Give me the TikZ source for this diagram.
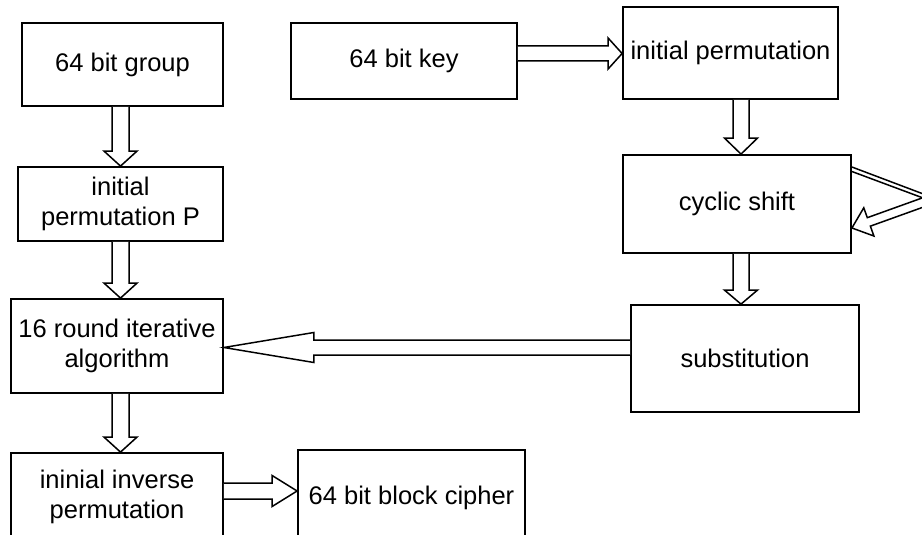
\documentclass[tikz,border=0pt]{standalone}
\usepackage{fontspec}
\setmainfont{Liberation Sans}
\usetikzlibrary{calc}

% Hollow block arrow: #1 start, #2 tip, #3 shaft half width,
% #4 head half width, #5 head length
\newcommand\hollowarrow[5]{%
  \coordinate (ha-s) at #1;
  \coordinate (ha-e) at #2;
  \coordinate (ha-h) at ($(ha-e)!#5!(ha-s)$);
  \draw[arrowline]
    ($(ha-s)!#3!90:(ha-e)$) -- ($(ha-h)!#3!90:(ha-e)$)
    -- ($(ha-h)!#4!90:(ha-e)$) -- (ha-e)
    -- ($(ha-h)!#4!-90:(ha-e)$) -- ($(ha-h)!#3!-90:(ha-e)$)
    -- ($(ha-s)!#3!-90:(ha-e)$);
}

\begin{document}
\begin{tikzpicture}[x=1pt,y=-1pt,
  box/.style={draw, line width=1.8pt, rectangle, inner sep=0pt, align=center,
    font=\fontsize{25.5}{30}\selectfont},
  arrowline/.style={draw, line width=1.5pt, line join=miter, fill=white}]
\useasboundingbox (0,0) rectangle (922,535);
\fill[white] (0,0) rectangle (922,535);
\clip (0,0) rectangle (922,535);

% left column: data path
\node[box, minimum width=201pt, minimum height=83pt] (A) at (122.5,64.5) {64 bit group};
\node[box, minimum width=205pt, minimum height=74pt] (B) at (120.5,204) {initial\\permutation P};
\node[box, minimum width=212pt, minimum height=94pt] (C) at (117,346) {16 round iterative\\algorithm};
\node[box, minimum width=212pt, minimum height=88pt] (D) at (117,497) {ininial inverse\\permutation};
\node[box, minimum width=227pt, minimum height=96pt] (E) at (411.5,498) {64 bit block cipher};

% right column: key schedule
\node[box, minimum width=226pt, minimum height=76pt] (F) at (404,61) {64 bit key};
\node[box, minimum width=215pt, minimum height=92pt] (G) at (730.5,53) {initial permutation};
\node[box, minimum width=228pt, minimum height=98pt] (H) at (737,204) {cyclic shift};
\node[box, minimum width=228pt, minimum height=107pt] (I) at (745,358.5) {substitution};

% axes of the block arrows
\coordinate (colL) at (120.5,0);
\coordinate (colR) at (741,0);
\coordinate (rowK) at (0,53.5);
\coordinate (rowS) at (0,347.5);
\coordinate (rowD) at (0,491);

\hollowarrow{(A.south -| colL)}{(B.north -| colL)}{8.5pt}{16.5pt}{15pt}
\hollowarrow{(B.south -| colL)}{(C.north -| colL)}{8.5pt}{16.5pt}{15pt}
\hollowarrow{(C.south -| colL)}{(D.north -| colL)}{8.5pt}{16.5pt}{15pt}
\hollowarrow{(D.east |- rowD)}{(E.west |- rowD)}{8pt}{15.5pt}{25pt}

\hollowarrow{(F.east |- rowK)}{(G.west |- rowK)}{7.5pt}{15.5pt}{14pt}
\hollowarrow{(G.south -| colR)}{(H.north -| colR)}{8pt}{16.5pt}{16pt}
\hollowarrow{(H.south -| colR)}{(I.north -| colR)}{8pt}{16.5pt}{14pt}
\hollowarrow{(I.west |- rowS)}{(C.east |- rowS)}{7.5pt}{15pt}{90pt}

% feedback loop on the cyclic shift
\coordinate (fbA) at ($(H.east)+(0,-37)$);
\coordinate (fbB) at ($(H.east)+(0,-32.5)$);
\coordinate (fbC) at ($(H.east)+(90,-3)$);
\coordinate (fbD) at ($(H.east)+(90,1)$);
\coordinate (fbS) at ($(H.east)+(89,-8)$);
\coordinate (fbE) at ($(H.east)+(0,24)$);
\draw[line width=1.5pt] (fbA) -- (fbC);
\draw[line width=1.5pt] (fbB) -- (fbD);
\hollowarrow{(fbS)}{(fbE)}{4.5pt}{15pt}{18pt}
\end{tikzpicture}
\end{document}
